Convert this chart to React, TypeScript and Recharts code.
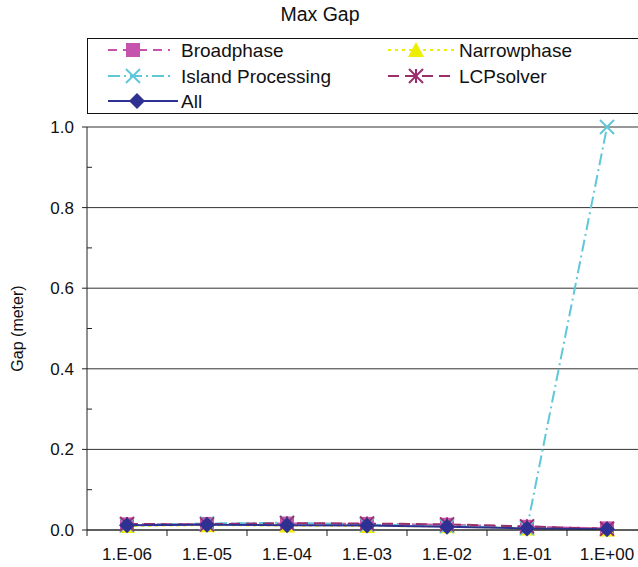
import React from 'react';
import { LineChart, Line, XAxis, YAxis, CartesianGrid } from 'recharts';

// step sizes on the x axis
const categories = ['1.E-06', '1.E-05', '1.E-04', '1.E-03', '1.E-02', '1.E-01', '1.E+00'];

// max gap per series (meter)
const broadphase = [0.014, 0.015, 0.016, 0.015, 0.013, 0.008, 0.004];
const narrowphase = [0.010, 0.012, 0.011, 0.010, 0.009, 0.004, 0.001];
const islandProcessing = [0.012, 0.016, 0.018, 0.013, 0.010, 0.005, 1.0];
const lcpSolver = [0.015, 0.014, 0.017, 0.016, 0.014, 0.009, 0.003];
const all = [0.012, 0.013, 0.012, 0.011, 0.008, 0.004, 0.002];

const yTicks = [0, 0.1, 0.2, 0.3, 0.4, 0.5, 0.6, 0.7, 0.8, 0.9, 1.0];
const yMajor = [0, 0.2, 0.4, 0.6, 0.8, 1.0];
const xTicks = [0, 0.5, 1, 1.5, 2, 2.5, 3, 3.5, 4, 4.5, 5, 5.5, 6, 6.5, 7];

const data = categories.map((c, i) => ({
  x: i + 0.5,
  name: c,
  broadphase: broadphase[i],
  narrowphase: narrowphase[i],
  island: islandProcessing[i],
  lcp: lcpSolver[i],
  all: all[i],
}));

const FONT = '"Liberation Sans", Arial, Helvetica, sans-serif';

type MarkerKind = 'square' | 'triangle' | 'cross' | 'star' | 'diamond';

const Marker = ({ cx, cy, kind, color }: { cx: number; cy: number; kind: MarkerKind; color: string }) => {
  if (cx == null || cy == null) return null;
  const s = 7;
  switch (kind) {
    case 'square':
      return <rect x={cx - s} y={cy - s} width={s * 2} height={s * 2} fill={color} />;
    case 'triangle':
      return <polygon points={`${cx},${cy - s - 1} ${cx + s + 1},${cy + s} ${cx - s - 1},${cy + s}`} fill={color} />;
    case 'cross':
      return (
        <g stroke={color} strokeWidth={2}>
          <line x1={cx - s} y1={cy - s} x2={cx + s} y2={cy + s} />
          <line x1={cx - s} y1={cy + s} x2={cx + s} y2={cy - s} />
        </g>
      );
    case 'star':
      return (
        <g stroke={color} strokeWidth={2}>
          <line x1={cx - s} y1={cy - s} x2={cx + s} y2={cy + s} />
          <line x1={cx - s} y1={cy + s} x2={cx + s} y2={cy - s} />
          <line x1={cx} y1={cy - s} x2={cx} y2={cy + s} />
        </g>
      );
    case 'diamond':
      return <polygon points={`${cx},${cy - s - 1} ${cx + s + 1},${cy} ${cx},${cy + s + 1} ${cx - s - 1},${cy}`} fill={color} />;
  }
  return null;
};

const series = [
  { key: 'broadphase', name: 'Broadphase', color: '#C653AE', dash: '9 6', marker: 'square' as MarkerKind },
  { key: 'narrowphase', name: 'Narrowphase', color: '#EEEE00', dash: '3 4', marker: 'triangle' as MarkerKind },
  { key: 'island', name: 'Island Processing', color: '#5EC8D8', dash: '12 4 2 4', marker: 'cross' as MarkerKind },
  { key: 'lcp', name: 'LCPsolver', color: '#9A2F6C', dash: '11 6', marker: 'star' as MarkerKind },
  { key: 'all', name: 'All', color: '#2E3192', dash: undefined, marker: 'diamond' as MarkerKind },
];

// legend slots relative to the legend box: [iconStart, iconEnd, textX, rowY]
const legendSlots = [
  [20, 82, 93, 11],
  [300, 368, 371, 11],
  [20, 82, 93, 37],
  [300, 368, 371, 37],
  [20, 90, 93, 62],
];

const LegendBox = () => (
  <div
    style={{
      position: 'absolute',
      top: 38,
      left: 87,
      width: 580,
      height: 76,
      border: '1px solid #111',
      boxSizing: 'border-box',
      background: '#fff',
    }}
  >
    <svg width={578} height={74} style={{ display: 'block', overflow: 'visible' }}>
      {series.map((s, i) => {
        const [x1, x2, tx, y] = legendSlots[i];
        return (
          <g key={s.key}>
            <line x1={x1} y1={y} x2={x2} y2={y} stroke={s.color} strokeWidth={2} strokeDasharray={s.dash} />
            <Marker cx={(x1 + x2) / 2 - 6} cy={y} kind={s.marker} color={s.color} />
            <text x={tx} y={y + 7} fontSize={19} fontFamily={FONT} fill="#111">
              {s.name}
            </text>
          </g>
        );
      })}
    </svg>
  </div>
);

const YTick = (props: any) => {
  const { x, y, payload } = props;
  const major = yMajor.some((v) => Math.abs(v - payload.value) < 1e-9);
  if (!major) {
    return <line x1={x} y1={y} x2={x + 5} y2={y} stroke="#222" />;
  }
  return (
    <g>
      <line x1={x - 5} y1={y} x2={x} y2={y} stroke="#222" />
      <text x={x - 13} y={y + 6} textAnchor="end" fontSize={17} fontFamily={FONT} fill="#111">
        {payload.value.toFixed(1)}
      </text>
    </g>
  );
};

const XTick = (props: any) => {
  const { x, y, payload } = props;
  const v = payload.value as number;
  if (Number.isInteger(v)) {
    return <line x1={x} y1={y} x2={x} y2={y + 6} stroke="#222" />;
  }
  return (
    <text x={x} y={y + 30} textAnchor="middle" fontSize={17} fontFamily={FONT} fill="#111">
      {categories[Math.floor(v)]}
    </text>
  );
};

const YLabel = (props: any) => {
  const vb = props.viewBox || {};
  const cx = 23;
  const cy = vb.y + vb.height / 2;
  return (
    <text x={cx} y={cy} transform={`rotate(-90, ${cx}, ${cy})`} textAnchor="middle" fontSize={16} fontFamily={FONT} fill="#111">
      Gap (meter)
    </text>
  );
};

const App: React.FC = () => {
  return (
    <div style={{ position: 'absolute', left: 0, top: 0, width: 638, height: 567, overflow: 'hidden', background: '#fff' }}>
      <div
        style={{
          position: 'absolute',
          top: 3,
          left: 0,
          width: 640,
          textAlign: 'center',
          fontFamily: FONT,
          fontSize: 19.5,
          color: '#111',
        }}
      >
        Max Gap
      </div>
      <LineChart width={660} height={567} data={data} margin={{ top: 127, right: 13, bottom: 7, left: 17 }}>
        <CartesianGrid vertical={false} horizontalValues={yMajor} stroke="#333" />
        <XAxis
          dataKey="x"
          type="number"
          domain={[0, 7]}
          ticks={xTicks}
          interval={0}
          tickLine={false}
          tickSize={0}
          tickMargin={0}
          axisLine={{ stroke: '#222' }}
          tick={<XTick />}
          height={30}
        />
        <YAxis
          type="number"
          domain={[0, 1]}
          ticks={yTicks}
          interval={0}
          tickLine={false}
          tickSize={0}
          tickMargin={0}
          axisLine={{ stroke: '#222' }}
          tick={<YTick />}
          width={70}
          label={<YLabel />}
        />
        {series.map((s) => (
          <Line
            key={s.key}
            type="linear"
            dataKey={s.key}
            name={s.name}
            stroke={s.color}
            strokeWidth={2}
            strokeDasharray={s.dash}
            isAnimationActive={false}
            dot={(p: any) => <Marker key={`${s.key}-${p.index}`} cx={p.cx} cy={p.cy} kind={s.marker} color={s.color} />}
            activeDot={false}
          />
        ))}
      </LineChart>
      <LegendBox />
    </div>
  );
};

export default App;
